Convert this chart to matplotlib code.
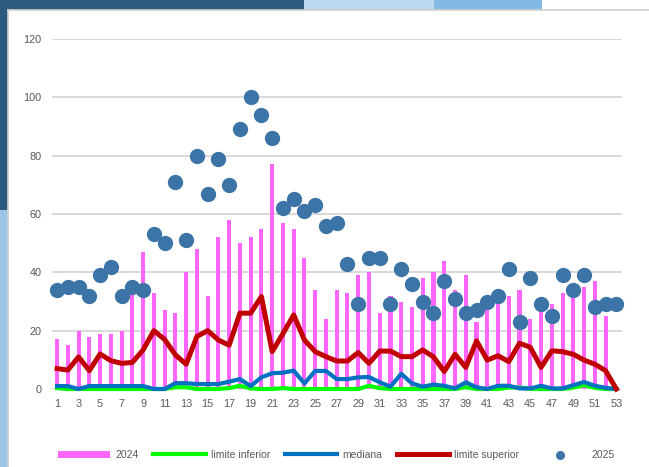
import numpy as np
import matplotlib.pyplot as plt
from matplotlib.patches import Rectangle
from matplotlib.lines import Line2D

plt.rcParams['font.family'] = ['Liberation Sans', 'DejaVu Sans']

#%% Data
weeks = np.arange(1, 54)
casos_2024 = [17, 15, 20, 18, 19, 19, 20, 33, 47, 33, 27, 26, 40, 48, 32, 52, 58, 50, 52, 55,
              77, 57, 55, 45, 34, 24, 34, 33, 39, 40, 26, 32, 30, 28, 38, 40, 44, 34, 39, 23,
              30, 31, 32, 34, 24, 27, 29, 33, 34, 35, 37, 25]
casos_2025 = [34, 35, 35, 32, 39, 42, 32, 35, 34, 53, 50, 71, 51, 80, 67, 79, 70, 89, 100, 94,
              86, 62, 65, 61, 63, 56, 57, 43, 29, 45, 45, 29, 41, 36, 30, 26, 37, 31, 26, 27,
              30, 32, 41, 23, 38, 29, 25, 39, 34, 39, 28, 29, 29]
limite_inferior = [0.3, 0, 0, 0, 0, 0, 0, 0, 0, 0, 0, 0.6, 0.6, 0, 0, 0, 0.3, 1.1, 0.2, 0,
                   0, 0.3, 0, 0, 0, 0, 0, 0, 0, 1.1, 0.3, 0, 0, 0, 0, 0, 0, 0, 0.6, 0,
                   0, 0, 0.5, 0.5, 0, 0, 0, 0, 0.5, 1.3, 0.4, 0, 0]
mediana = [1, 1, 0, 1, 1, 1, 1, 1, 1, 0, 0, 2, 2, 1.7, 1.7, 1.7, 2.5, 3.4, 1, 4,
           5.4, 5.6, 6.3, 1.9, 6.2, 6.2, 3.4, 3.4, 4, 4.1, 2.3, 0.8, 5.2, 1.9, 0.8, 1.5, 1.1, 0.2, 2.3, 0.6,
           0, 1.1, 1.1, 0.2, 0.2, 1.1, 0.2, 0.2, 1.3, 2.4, 1.1, 0.4, 0]
limite_superior = [7, 6.5, 11, 6.3, 12, 9.7, 8.8, 9.1, 13.4, 20, 17, 11.7, 8.5, 18, 20, 16.8, 15, 26, 26, 31.7,
                   12.8, 19, 25.4, 16.8, 12.8, 11.1, 9.6, 9.6, 12.5, 8.8, 13, 13, 11.1, 11.1, 13.4, 11, 6, 11.9, 7.4, 16.5,
                   9.9, 11.4, 9.4, 15.7, 14.3, 7.4, 13.1, 12.8, 11.9, 9.9, 8.5, 6.3, 0]

#%% Figure + slide background bits
W, H = 649, 467
fig = plt.figure(figsize=(W / 100, H / 100), dpi=100)

def box(x, y, w, h, c):
    fig.add_artist(Rectangle((x / W, 1 - (y + h) / H), w / W, h / H, color=c,
                             transform=fig.transFigure, lw=0))

box(0, 0, 304, 10, '#2d5880')
box(304, 0, 130, 10, '#bcd9f0')
box(434, 0, 108, 10, '#84b9e4')
box(0, 0, 8, 210, '#2d5880')
box(0, 210, 8, 257, '#9cc5e8')
fig.add_artist(Line2D([8 / W, 1], [1 - 9.5 / H] * 2, color='#d0d0d0', lw=1.2, transform=fig.transFigure))
fig.add_artist(Line2D([8 / W] * 2, [0, 1 - 9.5 / H], color='#d0d0d0', lw=1.2, transform=fig.transFigure))

#%% Chart
ax = fig.add_axes([51.7 / W, 1 - 389 / H, 570 / W, 350 / H])
ax.bar(weeks[:len(casos_2024)], casos_2024, width=0.38, color='#ff66ff', label='2024', zorder=2)
ax.plot(weeks, limite_inferior, color='#00ff00', lw=3, label='limite inferior', zorder=3, clip_on=False)
ax.plot(weeks, mediana, color='#0070c0', lw=3, label='mediana', zorder=4, clip_on=False)
ax.plot(weeks, limite_superior, color='#c00000', lw=3.6, label='limite superior', zorder=5, clip_on=False)
ax.scatter(weeks, casos_2025, s=100, color='#3c74a7', label='2025', zorder=6, clip_on=False)

ax.set_xlim(0.5, 53.5)
ax.set_ylim(0, 120)
ax.set_yticks(range(0, 121, 20))
ax.set_xticks(weeks[::2])
ax.grid(axis='y', color='#d9d9d9', lw=1.4)
ax.set_axisbelow(True)
for s in ax.spines.values():
    s.set_visible(False)
ax.tick_params(length=0, colors='#595959', labelsize=7.8)
ax.tick_params(axis='y', pad=7.5)
ax.tick_params(axis='x', pad=7)

handles, labels = ax.get_legend_handles_labels()
order = ['2024', 'limite inferior', 'mediana', 'limite superior', '2025']
hl = dict(zip(labels, handles))
fig.legend([hl[k] for k in order], order, loc='center left', bbox_to_anchor=(58 / W, 1 - 455 / H),
           ncol=5, frameon=False, fontsize=7.5, handlelength=5.0, handletextpad=0.48,
           columnspacing=1.45, borderpad=0, borderaxespad=0, markerscale=0.55, labelcolor='#595959')

fig.savefig('out.png', dpi=100)
